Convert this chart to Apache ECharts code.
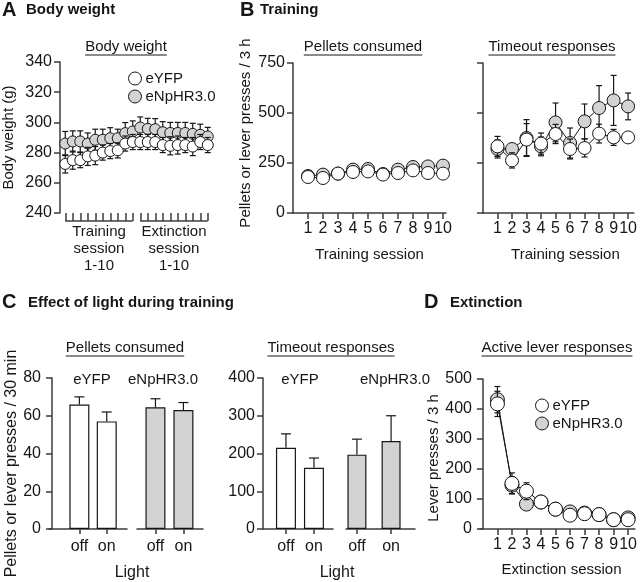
<!DOCTYPE html>
<html><head><meta charset="utf-8">
<script src="https://cdn.jsdelivr.net/npm/echarts@6/dist/echarts.min.js"></script>
<style>html,body{margin:0;padding:0;background:#fff}#c{width:640px;height:582px}</style>
</head><body><div id="c"></div>
<script>
// ---------- DATA ----------
// Panel A: body weight across 10 training + 10 extinction sessions
const A_sessions = [1,2,3,4,5,6,7,8,9,10,11,12,13,14,15,16,17,18,19,20];
const A_eYFP      = [272.5,275,275,277.5,278,280,281,281.5,286,287,287,287,287,285,284.5,285,285,284,287,285];
const A_eYFP_sem  = [6,6,5,6,6,5,5,5,5,5,5,5,5,5,6,6,5,6,5,5];
const A_eNpHR     = [286,287.4,287.4,286,288.5,288.5,289.5,289.5,292.9,294,296.6,295.7,295.5,293.5,293,293,293,292.4,291.8,290.7];
const A_eNpHR_sem = [8,7,7,7,7,7,7,6,7,7,7,7,7,7,7,7,7,7,7,6];
const A_groups = ['Training\nsession\n1-10', 'Extinction\nsession\n1-10'];
const A_groupRanges = [[1,10],[11,20]];

// Panel B: training
const B_sessions = [1,2,3,4,5,6,7,8,9,10];
const B_pel_eYFP      = [180,175,197,205,208,192,200,213,200,197];
const B_pel_eYFP_sem  = [12,12,12,12,12,10,12,12,12,12];
const B_pel_eNpHR     = [185,192,197,217,220,195,217,230,233,237];
const B_pel_eNpHR_sem = [12,12,12,12,12,10,12,12,12,12];
const B_to_eYFP       = [333,263,367,347,395,320,325,397,378,378];
const B_to_eYFP_sem   = [50,38,80,53,48,50,45,47,40,20];
const B_to_eNpHR      = [320,320,375,333,453,350,458,525,563,533];
const B_to_eNpHR_sem  = [45,27,92,47,97,75,87,112,125,67];

// Panel C: effect of light during training
const C_light = ['off','on'];
const C_groups = ['eYFP','eNpHR3.0'];
const C_pel_eYFP      = [66,57];
const C_pel_eYFP_sem  = [4,5];
const C_pel_eNpHR     = [64.5,63];
const C_pel_eNpHR_sem = [4.5,4];
const C_to_eYFP       = [215,162];
const C_to_eYFP_sem   = [37,26];
const C_to_eNpHR      = [197,233];
const C_to_eNpHR_sem  = [41,67];

// Panel D: extinction
const D_sessions = [1,2,3,4,5,6,7,8,9,10];
const D_eYFP      = [417,152,126,90,66,46,51,48,31,31];
const D_eYFP_sem  = [42,35,28,12,10,10,10,10,8,8];
const D_eNpHR     = [431,146,83,90,66,57,53,48,31,37];
const D_eNpHR_sem = [44,28,14,12,10,10,10,10,8,8];

// ---------- STYLE ----------
const FONT = "'Liberation Sans', Arial, Helvetica, sans-serif";
const INK = '#161616';
const AXC = '#3c3c3c';
const GREY = '#d3d3d3';
const LIGHT_POS = [1,2];

const grids = [
  {left:58,  top:62,  width:155, height:151}, // A
  {left:293, top:63,  width:153, height:150}, // B pellets
  {left:483, top:63,  width:157, height:150}, // B timeout
  {left:49,  top:378, width:78,  height:151}, // C pellets eYFP
  {left:137, top:378, width:66,  height:151}, // C pellets eNpHR
  {left:263, top:378, width:70,  height:151}, // C timeout eYFP
  {left:346, top:378, width:69,  height:151}, // C timeout eNpHR
  {left:480, top:379, width:160, height:150}  // D
];

function yAx(gi, min, max, interval, o) {
  o = o || {};
  return {
    type:'value', gridIndex:gi, min, max, interval, show: o.show !== false,
    axisLine:{show:true, lineStyle:{color:AXC, width:1.5}},
    axisTick:{show:true, length:6, lineStyle:{color:AXC, width:1.5}},
    axisLabel:{show: !!o.labels, fontSize:16, fontFamily:FONT, color:INK, margin:8},
    splitLine:{show:false},
    name:o.name || '', nameLocation:'middle', nameGap:o.nameGap || 30,
    nameTextStyle:{fontSize:o.nameSize || 15, fontFamily:FONT, color:INK, padding:o.pad || 0}
  };
}
function xAx(gi, min, max, ticks, o) {
  o = o || {};
  return {
    type:'value', gridIndex:gi, min, max,
    axisLine:{show: o.line !== false, onZero:false, lineStyle:{color:AXC, width:1.5}},
    axisTick:{show:true, customValues:ticks, length:o.tickLen || 6, lineStyle:{color:AXC, width:1.5}},
    axisLabel:{show: o.labels !== false, customValues:ticks, fontSize:16, fontFamily:FONT, color:INK, margin:o.margin || 8,
      formatter: o.fmt || (v => String(v))},
    splitLine:{show:false},
    name:o.name || '', nameLocation:'middle', nameGap:o.nameGap || 30,
    nameTextStyle:{fontSize:15, fontFamily:FONT, color:INK, padding:o.pad || 0}
  };
}
const lightFmt = v => C_light[LIGHT_POS.indexOf(Math.round(v))] || '';

const xAxes = [
  xAx(0, 0.3, 20.7, A_sessions, {line:false, labels:false, tickLen:8}),
  xAx(1, 0, 10.2, B_sessions, {name:'Training session', nameGap:34}),
  xAx(2, 0, 10.4, B_sessions, {name:'Training session', nameGap:34, pad:[0,0,0,14]}),
  xAx(3, -0.11, 2.74, LIGHT_POS, {fmt:lightFmt, margin:10, tickLen:5}),
  xAx(4, 0.34, 2.70, LIGHT_POS, {fmt:lightFmt, margin:10, tickLen:5}),
  xAx(5, 0.18, 2.68, LIGHT_POS, {fmt:lightFmt, margin:10, tickLen:5}),
  xAx(6, 0.68, 2.70, LIGHT_POS, {fmt:lightFmt, margin:10, tickLen:5}),
  xAx(7, -0.2, 10.47, D_sessions, {name:'Extinction session', nameGap:33, pad:[0,0,0,8]})
];
const yAxes = [
  yAx(0, 240, 340, 20, {labels:true, name:'Body weight (g)', nameGap:44}),
  yAx(1, 0, 750, 250, {labels:true, name:'Pellets or lever presses / 3 h', nameGap:40, pad:[0,0,0,10]}),
  yAx(2, 0, 750, 250, {labels:false}),
  yAx(3, 0, 80, 20, {labels:true, name:'Pellets or lever presses / 30 min', nameGap:28, nameSize:16, pad:[0,20,0,0]}),
  yAx(4, 0, 80, 20, {show:false}),
  yAx(5, 0, 400, 100, {labels:true}),
  yAx(6, 0, 400, 100, {show:false}),
  yAx(7, 0, 500, 100, {labels:true, name:'Lever presses / 3 h', nameGap:39, pad:[0,8,0,0]})
];

// ---------- SERIES BUILDERS ----------
function pairs(xs, ys) { return xs.map((x,i) => [x, ys[i]]); }
function lineS(ai, xs, ys) {
  return {type:'line', xAxisIndex:ai, yAxisIndex:ai, data:pairs(xs, ys), symbol:'none', showSymbol:false,
    lineStyle:{color:INK, width:1}, z:2, silent:true, animation:false};
}
function errS(ai, xs, ys, es, cap, upOnly, z) {
  return {type:'custom', xAxisIndex:ai, yAxisIndex:ai, z:z || 3, silent:true, animation:false,
    data: xs.map((x,i) => [x, upOnly ? ys[i] : ys[i]-es[i], ys[i]+es[i]]),
    renderItem: (params, api) => {
      const x = api.value(0), lo = api.value(1), hi = api.value(2);
      const p1 = api.coord([x, lo]), p2 = api.coord([x, hi]);
      const st = {stroke:INK, lineWidth:1.2};
      const ch = [
        {type:'line', shape:{x1:p1[0], y1:p1[1], x2:p2[0], y2:p2[1]}, style:st},
        {type:'line', shape:{x1:p2[0]-cap, y1:p2[1], x2:p2[0]+cap, y2:p2[1]}, style:st}
      ];
      if (!upOnly) ch.push({type:'line', shape:{x1:p1[0]-cap, y1:p1[1], x2:p1[0]+cap, y2:p1[1]}, style:st});
      return {type:'group', children:ch};
    }};
}
function dotS(name, ai, xs, ys, fill, size, z) {
  return {type:'scatter', name, xAxisIndex:ai, yAxisIndex:ai, data:pairs(xs, ys), symbol:'circle', symbolSize:size,
    itemStyle:{color:fill, borderColor:INK, borderWidth:1, opacity:1}, z:z, animation:false};
}
function barS(name, ai, ys, fill, w) {
  return {type:'bar', name, xAxisIndex:ai, yAxisIndex:ai, data:pairs(LIGHT_POS, ys), barWidth:w,
    itemStyle:{color:fill, borderColor:INK, borderWidth:1.2}, z:2, animation:false};
}
function panel(ai, xs, w, wsem, n, nsem, size, cap) {
  return [
    lineS(ai, xs, n), lineS(ai, xs, w),
    errS(ai, xs, n, nsem, cap, false, 3),
    dotS('eNpHR3.0', ai, xs, n, GREY, size, 4),
    errS(ai, xs, w, wsem, cap, false, 5),
    dotS('eYFP', ai, xs, w, '#ffffff', size, 6)
  ];
}

const series = [].concat(
  panel(0, A_sessions, A_eYFP, A_eYFP_sem, A_eNpHR, A_eNpHR_sem, 11, 3),
  [{
    type:'custom', xAxisIndex:0, yAxisIndex:0, silent:true, animation:false, clip:false,
    data: A_groupRanges.map((r,i) => [r[0], r[1], i]),
    renderItem: (params, api) => {
      const s = api.value(0), e = api.value(1), idx = api.value(2);
      const p1 = api.coord([s, 240]), p2 = api.coord([e, 240]);
      const y = p1[1] + 8;
      return {type:'group', children:[
        {type:'line', shape:{x1:p1[0], y1:y, x2:p2[0], y2:y}, style:{stroke:AXC, lineWidth:1.5}},
        {type:'text', x:(p1[0]+p2[0])/2, y:y+2, style:{text:A_groups[idx], fontSize:15, fontFamily:FONT, fill:INK,
          align:'center', verticalAlign:'top', lineHeight:17}}
      ]};
    }
  }],
  panel(1, B_sessions, B_pel_eYFP, B_pel_eYFP_sem, B_pel_eNpHR, B_pel_eNpHR_sem, 13, 3),
  panel(2, B_sessions, B_to_eYFP, B_to_eYFP_sem, B_to_eNpHR, B_to_eNpHR_sem, 13, 3),
  [
    barS('eYFP', 3, C_pel_eYFP, '#ffffff', 20), errS(3, LIGHT_POS, C_pel_eYFP, C_pel_eYFP_sem, 5, true),
    barS('eNpHR3.0', 4, C_pel_eNpHR, GREY, 20), errS(4, LIGHT_POS, C_pel_eNpHR, C_pel_eNpHR_sem, 5, true),
    barS('eYFP', 5, C_to_eYFP, '#ffffff', 20), errS(5, LIGHT_POS, C_to_eYFP, C_to_eYFP_sem, 5, true),
    barS('eNpHR3.0', 6, C_to_eNpHR, GREY, 19), errS(6, LIGHT_POS, C_to_eNpHR, C_to_eNpHR_sem, 5, true)
  ],
  panel(7, D_sessions, D_eYFP, D_eYFP_sem, D_eNpHR, D_eNpHR_sem, 14, 3)
);

// ---------- TEXT ----------
const mctx = document.createElement('canvas').getContext('2d');
function tw(text, size, bold) { mctx.font = (bold ? 'bold ' : '') + size + 'px ' + FONT; return mctx.measureText(text).width; }
function T(text, x, y, size, bold, align) {
  return {type:'text', x, y, silent:true, style:{text, fontSize:size, fontWeight:bold ? 'bold' : 'normal',
    fontFamily:FONT, fill:INK, align:align || 'left', verticalAlign:'middle'}};
}
function U(text, cx, cy) {
  const w = tw(text, 15, false);
  return [T(text, cx, cy, 15, false, 'center'),
    {type:'line', silent:true, shape:{x1:cx - w/2, y1:cy + 8, x2:cx + w/2, y2:cy + 8}, style:{stroke:INK, lineWidth:1}}];
}
const graphics = [].concat(
  [T('A', 2, 10, 20, true), T('Body weight', 26, 10, 15, true),
   T('B', 240, 10, 20, true), T('Training', 260, 10, 15, true),
   T('C', 2, 302, 20, true), T('Effect of light during training', 28, 303, 15, true),
   T('D', 424, 302, 20, true), T('Extinction', 450, 303, 15, true)],
  U('Body weight', 126, 47), U('Pellets consumed', 363, 47), U('Timeout responses', 552, 47),
  U('Pellets consumed', 125, 348), U('Timeout responses', 331, 348), U('Active lever responses', 557, 348),
  [T(C_groups[0], 92, 380, 15, false, 'center'), T(C_groups[1], 163, 380, 15, false, 'center'),
   T(C_groups[0], 300, 380, 15, false, 'center'), T(C_groups[1], 395, 380, 15, false, 'center'),
   T('Light', 132, 573, 16, false, 'center'), T('Light', 337, 573, 16, false, 'center')]
);

const legendItems = [
  {name:'eYFP', itemStyle:{color:'#ffffff', borderColor:INK, borderWidth:1}},
  {name:'eNpHR3.0', itemStyle:{color:GREY, borderColor:INK, borderWidth:1}}
];
function legendAt(left, top) {
  return {data:legendItems, left, top, orient:'vertical', icon:'circle', itemWidth:13, itemHeight:13, itemGap:3,
    selectedMode:false, padding:0, textStyle:{fontSize:15, fontFamily:FONT, color:INK, padding:[0,0,0,-1]}};
}

const chart = echarts.init(document.getElementById('c'), null, {renderer:'canvas'});
chart.setOption({
  animation:false,
  backgroundColor:'#ffffff',
  grid: grids.map(g => Object.assign({containLabel:false}, g)),
  xAxis: xAxes,
  yAxis: yAxes,
  legend: [legendAt(128, 71), legendAt(535, 398)],
  series,
  graphic: graphics
});
</script>
</body></html>
